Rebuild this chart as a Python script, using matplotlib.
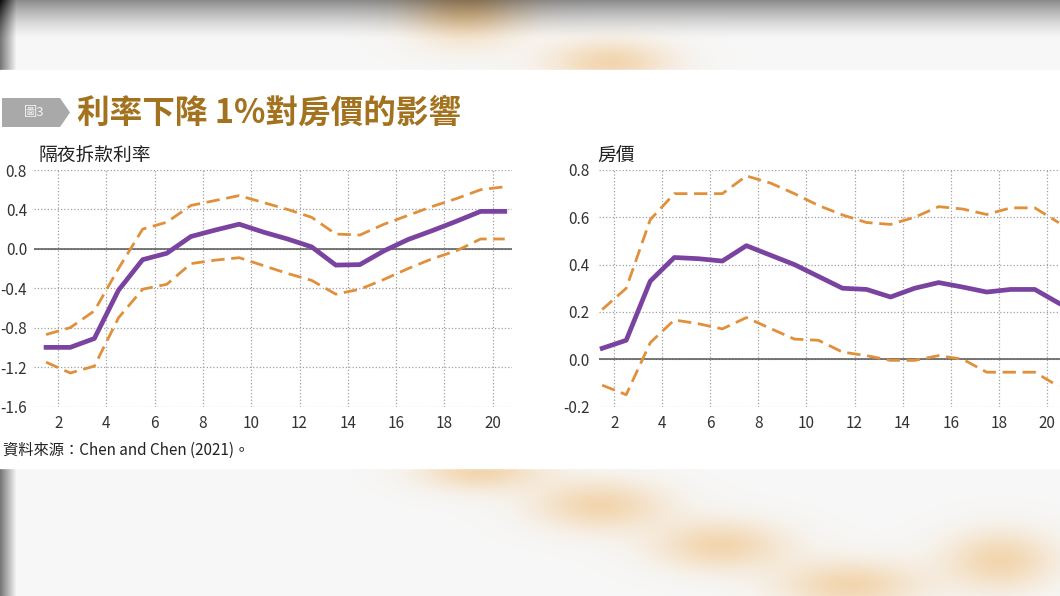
import numpy as np
import matplotlib
matplotlib.use("Agg")
import matplotlib.pyplot as plt
from matplotlib.patches import Polygon, Rectangle

plt.rcParams['font.family'] = ['Noto Sans CJK TC', 'DejaVu Sans']

# 資料 (讀圖估計)
horizon = [1.5, 2.5, 3.5, 4.5, 5.5, 6.5, 7.5, 8.5, 9.5, 10.5,
           11.5, 12.5, 13.5, 14.5, 15.5, 16.5, 17.5, 18.5, 19.5, 20.5]

rate_mid = [-1.00, -1.00, -0.91, -0.42, -0.11, -0.045, 0.125, 0.19, 0.25, 0.17,
            0.10, 0.02, -0.165, -0.16, -0.02, 0.095, 0.185, 0.28, 0.38, 0.38]
rate_hi = [-0.87, -0.80, -0.63, -0.20, 0.20, 0.27, 0.44, 0.49, 0.54, 0.47,
           0.40, 0.32, 0.15, 0.14, 0.25, 0.34, 0.43, 0.51, 0.60, 0.63]
rate_lo = [-1.15, -1.26, -1.19, -0.70, -0.41, -0.36, -0.15, -0.115, -0.09, -0.17,
           -0.25, -0.32, -0.46, -0.41, -0.31, -0.20, -0.10, -0.02, 0.10, 0.10]

hp_mid = [0.046, 0.08, 0.33, 0.43, 0.425, 0.415, 0.48, 0.44, 0.40, 0.35,
          0.30, 0.295, 0.263, 0.30, 0.324, 0.305, 0.284, 0.295, 0.295, 0.237]
hp_hi = [0.21, 0.30, 0.59, 0.70, 0.70, 0.70, 0.775, 0.745, 0.70, 0.65,
         0.61, 0.578, 0.57, 0.60, 0.645, 0.635, 0.612, 0.64, 0.64, 0.577]
hp_lo = [-0.11, -0.15, 0.07, 0.166, 0.15, 0.128, 0.176, 0.13, 0.085, 0.08,
         0.03, 0.015, -0.005, -0.005, 0.015, 0.0, -0.055, -0.055, -0.055, -0.115]

xticks = [2, 4, 6, 8, 10, 12, 14, 16, 18, 20]
rate_yticks = [0.8, 0.4, 0.0, -0.4, -0.8, -1.2, -1.6]
hp_yticks = [0.8, 0.6, 0.4, 0.2, 0.0, -0.2]

W, H = 1060, 596
PURPLE = '#7a43a0'
ORANGE = '#e0903a'

fig = plt.figure(figsize=(W / 100, H / 100), dpi=100)

def fx(px):
    return px / W

def fy(py):
    return 1 - py / H

# 背景 (模糊截圖)
bg = fig.add_axes([0, 0, 1, 1])
yy, xx = np.mgrid[0:H, 0:W]
img = np.ones((H, W, 3)) * 0.97
top = np.clip(1 - yy / 40.0, 0, 1) ** 1.5
img -= (0.42 * top)[..., None]
left = np.clip(1 - xx / 16.0, 0, 1)
img -= (0.5 * left)[..., None]
blobs = [(465, 15, 55, 30), (610, 62, 60, 22), (480, 470, 60, 20), (600, 505, 65, 25),
         (720, 545, 65, 25), (850, 585, 70, 25), (1000, 560, 55, 30)]
orange_tint = np.array([0.02, 0.13, 0.28])
for cx, cy, sx, sy in blobs:
    g = np.exp(-(((xx - cx) / sx) ** 2 + ((yy - cy) / sy) ** 2))
    img -= g[..., None] * orange_tint
img = np.clip(img, 0, 1)
bg.imshow(img, extent=[0, W, H, 0], aspect='auto')
bg.add_patch(Rectangle((0, 70), W, 398, color='white'))
bg.set_xlim(0, W)
bg.set_ylim(H, 0)
bg.axis('off')

# 標題
fig.patches.append(Polygon([[fx(2), fy(98)], [fx(60), fy(98)], [fx(70), fy(112.5)],
                            [fx(60), fy(127)], [fx(2), fy(127)]],
                           closed=True, transform=fig.transFigure,
                           facecolor='#a9a9a9', edgecolor='none'))
fig.text(fx(34), fy(112.5), '圖3', color='#f2f2f2', fontsize=9.5, ha='center', va='center')
fig.text(fx(77), fy(113), '利率下降 1%對房價的影響', color='#a3721f', fontsize=23.5,
         fontweight='bold', ha='left', va='center')

fig.text(fx(38), fy(156), '隔夜拆款利率', fontsize=13.5, color='#222222', ha='left', va='center')
fig.text(fx(597), fy(156), '房價', fontsize=13.5, color='#222222', ha='left', va='center')
fig.text(fx(3), fy(450), '資料來源：Chen and Chen (2021)。', fontsize=11, color='#222222',
         ha='left', va='center')


def panel(rect, xlim, ylim, yticks, mid, hi, lo):
    ax = fig.add_axes(rect)
    ax.set_xlim(*xlim)
    ax.set_ylim(*ylim)
    ax.set_xticks(xticks)
    ax.set_yticks(yticks)
    ax.set_yticklabels(['%.1f' % v for v in yticks])
    ax.grid(True, linestyle=':', color='#a0a0a0', linewidth=0.9)
    for s in ax.spines.values():
        s.set_visible(False)
    ax.tick_params(length=0, labelsize=11, colors='#333333')
    ax.tick_params(axis='x', pad=6)
    ax.tick_params(axis='y', pad=5)
    ax.axhline(0, color='#555555', linewidth=1.1, zorder=2)
    ax.plot(horizon, hi, color=ORANGE, linewidth=2.0, dashes=(4.8, 2.4), zorder=3)
    ax.plot(horizon, lo, color=ORANGE, linewidth=2.0, dashes=(4.8, 2.4), zorder=3)
    ax.plot(horizon, mid, color=PURPLE, linewidth=3.4, zorder=4)
    ax.patch.set_alpha(0)
    return ax

ax1 = panel([fx(34), fy(406.5), fx(478), (406.5 - 170) / H], (1.0, 20.8), (-1.6, 0.8),
            rate_yticks, rate_mid, rate_hi, rate_lo)
ax2 = panel([fx(599.3), fy(406.5), fx(466.7), (406.5 - 170) / H], (1.38, 20.8), (-0.2, 0.8),
            hp_yticks, hp_mid, hp_hi, hp_lo)
ax2.tick_params(axis='y', pad=7)

fig.savefig('out.png', dpi=100)
